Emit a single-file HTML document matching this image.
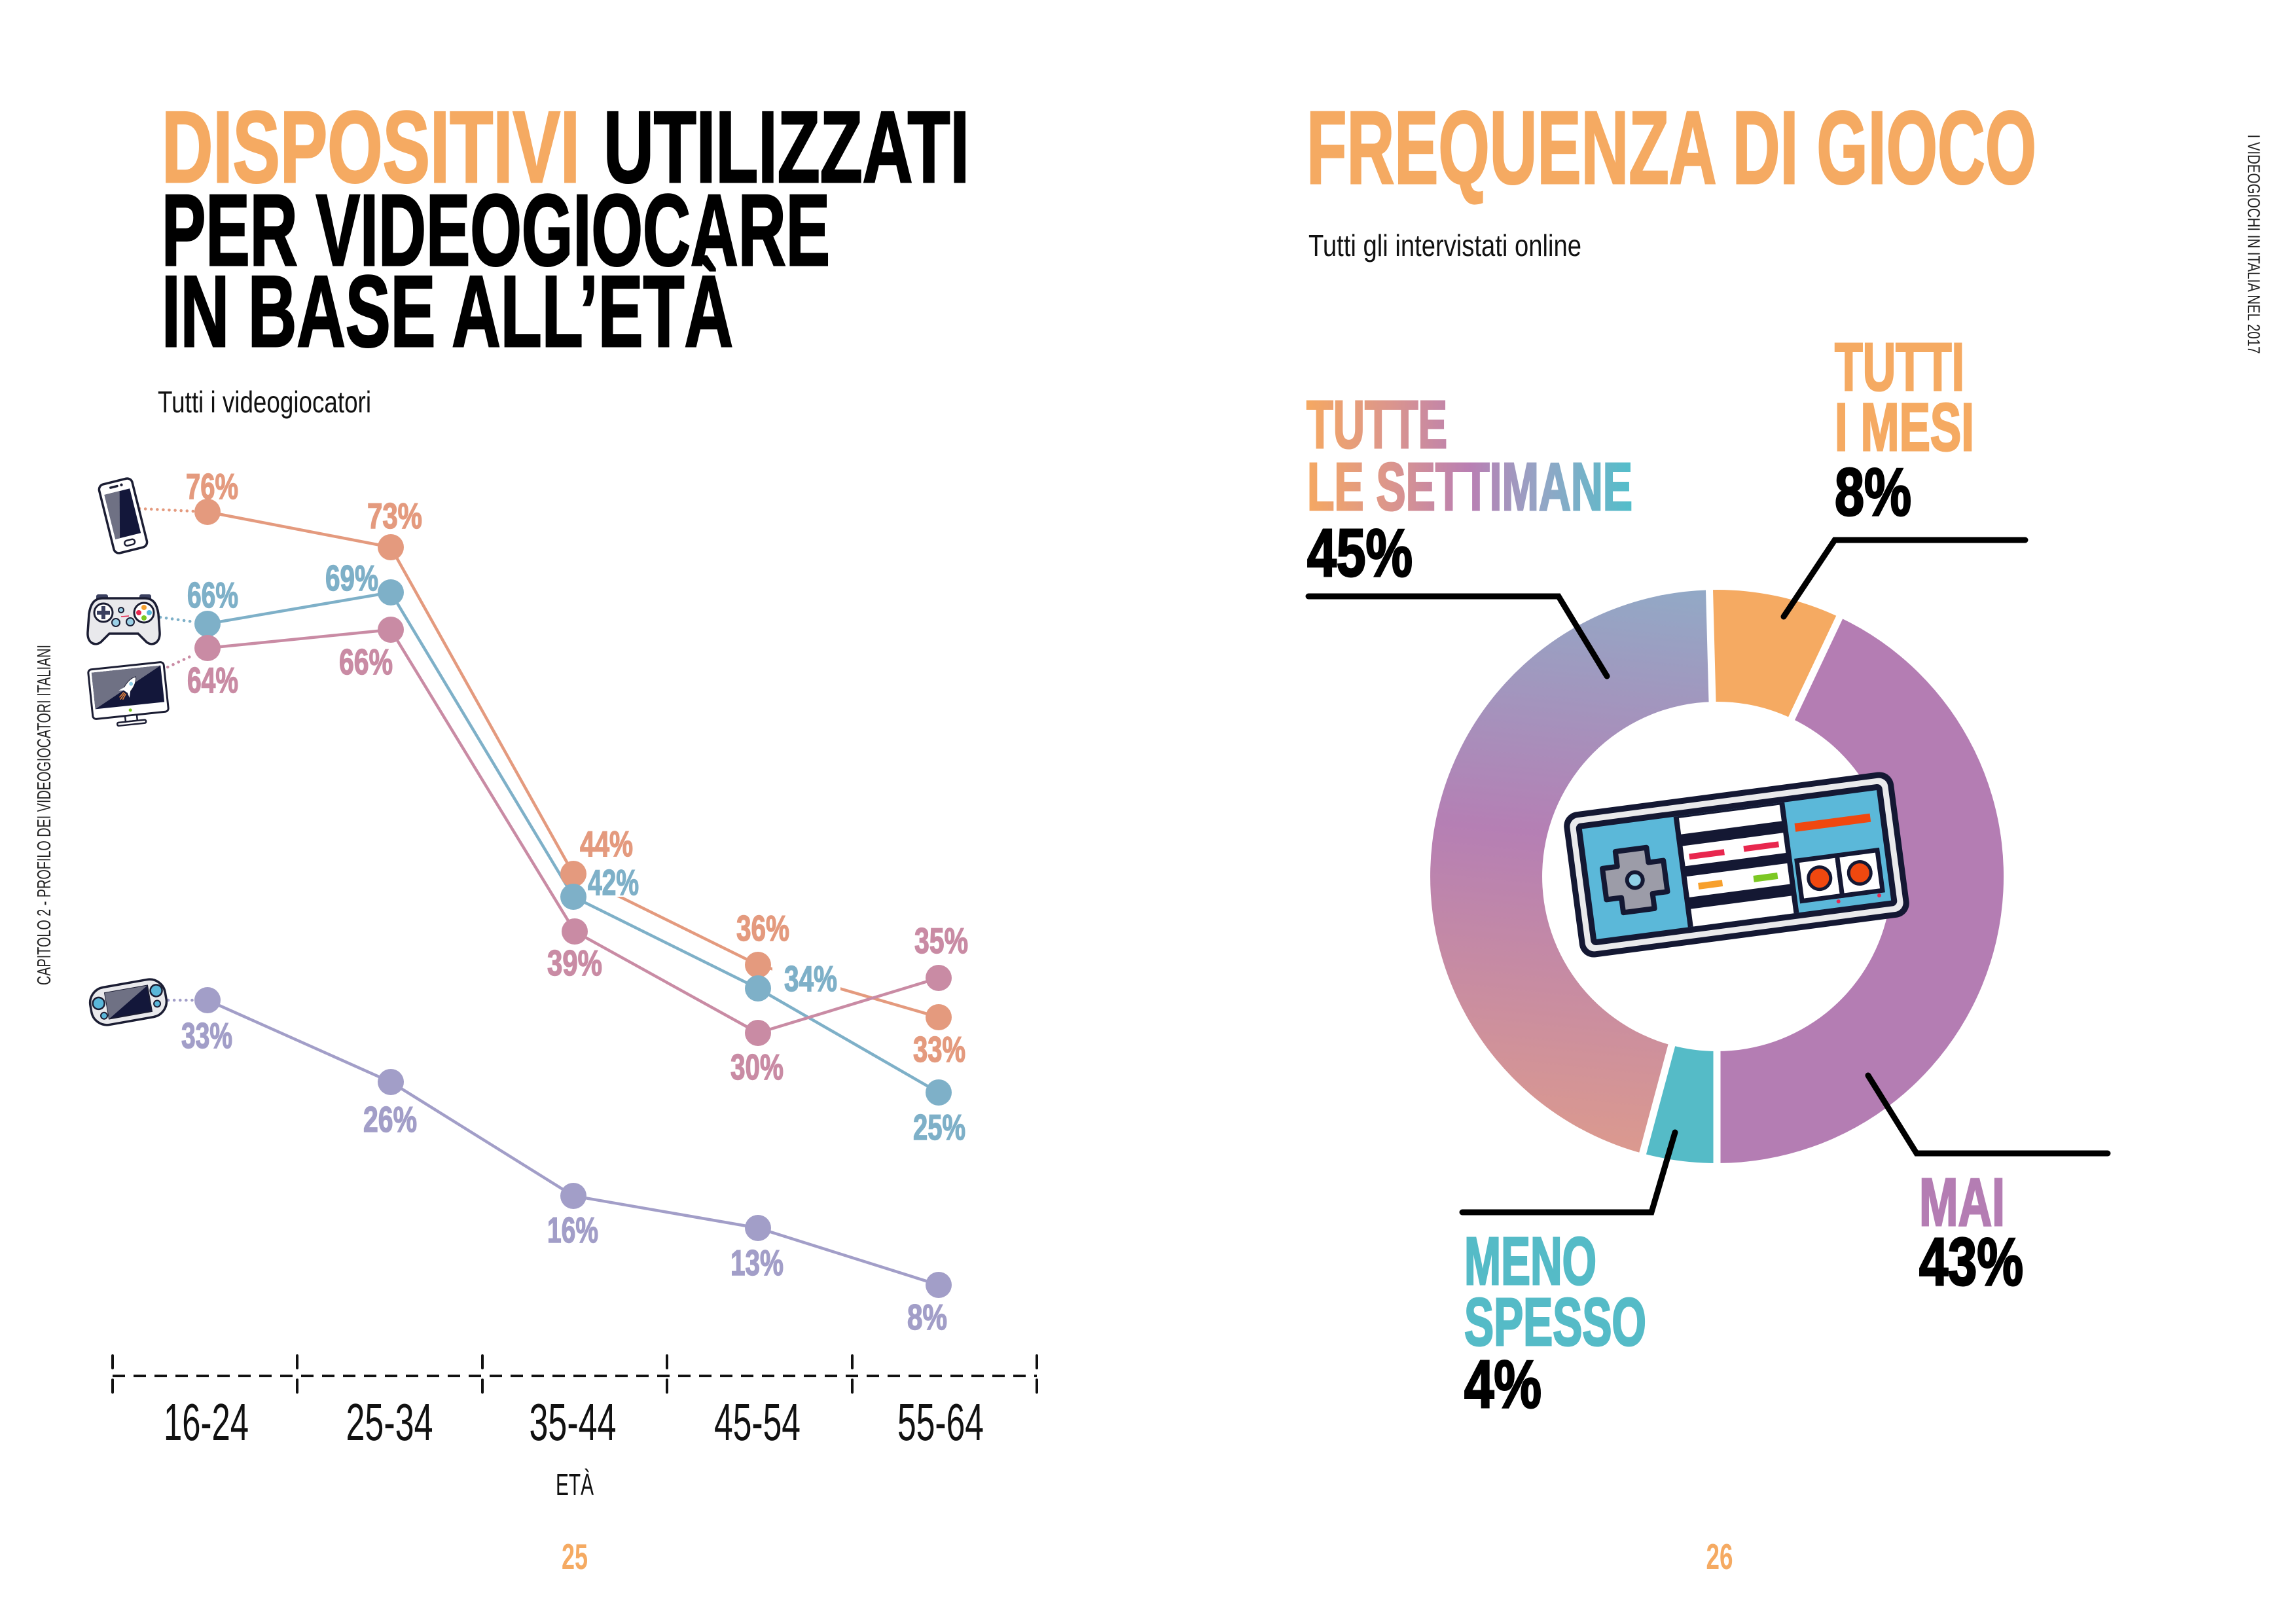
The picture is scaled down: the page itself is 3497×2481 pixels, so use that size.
<!DOCTYPE html>
<html>
<head>
<meta charset="utf-8">
<style>
html,body{margin:0;padding:0;background:#fff;}
svg{display:block;}
text{font-family:"Liberation Sans",Arial,sans-serif;}
</style>
</head>
<body>
<svg width="3497" height="2481" viewBox="0 0 3497 2481" xmlns="http://www.w3.org/2000/svg">
<defs>
  <linearGradient id="tg" gradientUnits="userSpaceOnUse" x1="1997" y1="0" x2="2494" y2="0">
    <stop offset="0" stop-color="#F5A862"/>
    <stop offset="0.25" stop-color="#DC968C"/>
    <stop offset="0.5" stop-color="#B97FB3"/>
    <stop offset="0.72" stop-color="#93A6C6"/>
    <stop offset="1" stop-color="#52BECA"/>
  </linearGradient>
  <linearGradient id="dg" gradientUnits="userSpaceOnUse" x1="2490" y1="1770" x2="2580" y2="900">
    <stop offset="0" stop-color="#DC9A8E"/>
    <stop offset="0.55" stop-color="#B57FB4"/>
    <stop offset="1" stop-color="#92A9C6"/>
  </linearGradient>
</defs>
<rect width="3497" height="2481" fill="#fff"/>

<!-- ================= LEFT PAGE ================= -->
<g font-weight="bold" font-size="155">
  <text x="247" y="278" textLength="639" lengthAdjust="spacingAndGlyphs" fill="#F5AA62" stroke="#F5AA62" stroke-width="3">DISPOSITIVI</text>
  <text x="922" y="278" textLength="559" lengthAdjust="spacingAndGlyphs" fill="#000" stroke="#000" stroke-width="3">UTILIZZATI</text>
  <text x="247" y="405" textLength="1021" lengthAdjust="spacingAndGlyphs" fill="#000" stroke="#000" stroke-width="3">PER VIDEOGIOCARE</text>
  <text x="247" y="529" textLength="873" lengthAdjust="spacingAndGlyphs" fill="#000" stroke="#000" stroke-width="3">IN BASE ALL’ETÀ</text>
</g>
<text x="241" y="630" font-size="46" textLength="326" lengthAdjust="spacingAndGlyphs" fill="#111">Tutti i videogiocatori</text>

<!-- vertical left text -->
<text transform="translate(77,1245) rotate(-90)" text-anchor="middle" font-size="29" textLength="520" lengthAdjust="spacingAndGlyphs" fill="#222">CAPITOLO 2 - PROFILO DEI VIDEOGIOCATORI ITALIANI</text>

<!-- dotted connectors -->
<g fill="none" stroke-width="4.5" stroke-linecap="round" stroke-dasharray="0.1 9">
  <path d="M213,777 L296,781" stroke="#E49A7E"/>
  <path d="M245,943 L296,950" stroke="#7EB0C8"/>
  <path d="M248,1023 L297,1000" stroke="#C98BA4"/>
  <path d="M257,1528 L296,1528" stroke="#A29EC8"/>
</g>

<!-- series lines -->
<g fill="none" stroke-width="4.5" stroke-linejoin="round">
  <polyline points="317,782 597,836 876,1335 1158,1474 1434,1554" stroke="#E49A7E"/>
  <polyline points="317,953 597,905 876,1370 1158,1510 1434,1669" stroke="#7EB0C8"/>
  <polyline points="317,990 597,962 878,1423 1158,1578 1434,1494" stroke="#C98BA4"/>
  <polyline points="317,1528 597,1653 876,1827 1158,1876 1434,1963" stroke="#A29EC8"/>
</g>

<!-- white label backgrounds -->
<rect x="893" y="1322" width="88" height="48" fill="#fff"/>
<rect x="1180" y="1468" width="104" height="49" fill="#fff"/>

<!-- circles -->
<g fill="#E49A7E">
  <circle cx="317" cy="782" r="20"/><circle cx="597" cy="836" r="20"/><circle cx="876" cy="1335" r="20"/><circle cx="1158" cy="1474" r="20"/><circle cx="1434" cy="1554" r="20"/>
</g>
<g fill="#7EB0C8">
  <circle cx="317" cy="953" r="20"/><circle cx="597" cy="905" r="20"/><circle cx="876" cy="1370" r="20"/><circle cx="1158" cy="1510" r="20"/><circle cx="1434" cy="1669" r="20"/>
</g>
<g fill="#C98BA4">
  <circle cx="317" cy="990" r="20"/><circle cx="597" cy="962" r="20"/><circle cx="878" cy="1423" r="20"/><circle cx="1158" cy="1578" r="20"/><circle cx="1434" cy="1494" r="20"/>
</g>
<g fill="#A29EC8">
  <circle cx="317" cy="1528" r="20"/><circle cx="597" cy="1653" r="20"/><circle cx="876" cy="1827" r="20"/><circle cx="1158" cy="1876" r="20"/><circle cx="1434" cy="1963" r="20"/>
</g>

<!-- percentage labels -->
<g font-weight="bold" font-size="55" stroke-width="1.5">
  <g fill="#E49A7E" stroke="#E49A7E">
    <text x="284" y="762" textLength="80" lengthAdjust="spacingAndGlyphs">76%</text>
    <text x="561" y="807" textLength="84" lengthAdjust="spacingAndGlyphs">73%</text>
    <text x="886" y="1308" textLength="81" lengthAdjust="spacingAndGlyphs">44%</text>
    <text x="1125" y="1437" textLength="81" lengthAdjust="spacingAndGlyphs">36%</text>
    <text x="1395" y="1622" textLength="80" lengthAdjust="spacingAndGlyphs">33%</text>
  </g>
  <g fill="#7EB0C8" stroke="#7EB0C8">
    <text x="286" y="928" textLength="78" lengthAdjust="spacingAndGlyphs">66%</text>
    <text x="497" y="902" textLength="81" lengthAdjust="spacingAndGlyphs">69%</text>
    <text x="898" y="1367" textLength="78" lengthAdjust="spacingAndGlyphs">42%</text>
    <text x="1198" y="1514" textLength="81" lengthAdjust="spacingAndGlyphs">34%</text>
    <text x="1395" y="1741" textLength="80" lengthAdjust="spacingAndGlyphs">25%</text>
  </g>
  <g fill="#C98BA4" stroke="#C98BA4">
    <text x="286" y="1058" textLength="78" lengthAdjust="spacingAndGlyphs">64%</text>
    <text x="518" y="1030" textLength="82" lengthAdjust="spacingAndGlyphs">66%</text>
    <text x="836" y="1490" textLength="84" lengthAdjust="spacingAndGlyphs">39%</text>
    <text x="1116" y="1649" textLength="81" lengthAdjust="spacingAndGlyphs">30%</text>
    <text x="1397" y="1456" textLength="82" lengthAdjust="spacingAndGlyphs">35%</text>
  </g>
  <g fill="#A29EC8" stroke="#A29EC8">
    <text x="277" y="1601" textLength="78" lengthAdjust="spacingAndGlyphs">33%</text>
    <text x="555" y="1729" textLength="82" lengthAdjust="spacingAndGlyphs">26%</text>
    <text x="836" y="1898" textLength="78" lengthAdjust="spacingAndGlyphs">16%</text>
    <text x="1116" y="1948" textLength="81" lengthAdjust="spacingAndGlyphs">13%</text>
    <text x="1386" y="2031" textLength="61" lengthAdjust="spacingAndGlyphs">8%</text>
  </g>
</g>

<!-- icons -->
<!-- phone -->
<g transform="translate(188,788) rotate(-14)">
  <rect x="-26" y="-54" width="52" height="108" rx="8" fill="#fff" stroke="#1B1D33" stroke-width="3.5"/>
  <rect x="-20" y="-38" width="40" height="70" fill="#13173A"/>
  <polygon points="-20,-38 4,-38 -13,32 -20,32" fill="#6F7184"/>
  <rect x="-10" y="-48" width="14" height="3.5" rx="1.7" fill="#1B1D33"/>
  <circle cx="9" cy="-46.5" r="2.2" fill="#1B1D33"/>
  <rect x="-8" y="38" width="16" height="8" rx="4" fill="#fff" stroke="#1B1D33" stroke-width="2.5"/>
</g>
<!-- gamepad -->
<g transform="translate(189,948)">
  <rect x="-42" y="-40" width="18" height="9" rx="3" fill="#3B4060"/>
  <rect x="24" y="-40" width="18" height="9" rx="3" fill="#3B4060"/>
  <path d="M-32,-34 L32,-34 C46,-34 51,-24 53,-10 L55,18 C56,34 44,40 35,33 L22,20 L-22,20 L-35,33 C-44,40 -56,34 -55,18 L-53,-10 C-51,-24 -46,-34 -32,-34 Z" fill="#E9E9EC" stroke="#1B1D33" stroke-width="3.5"/>
  <circle cx="-31" cy="-12" r="14" fill="#fff" stroke="#1B1D33" stroke-width="3"/>
  <path d="M-34,-22 h6 v7 h7 v6 h-7 v7 h-6 v-7 h-7 v-6 h7 z" fill="#3B4060"/>
  <circle cx="31" cy="-12" r="15" fill="#fff" stroke="#1B1D33" stroke-width="3"/>
  <circle cx="31" cy="-20" r="4" fill="#F5A030"/>
  <circle cx="23" cy="-12" r="4" fill="#E8264F"/>
  <circle cx="39" cy="-12" r="4" fill="#5AB7D9"/>
  <circle cx="31" cy="-4" r="4" fill="#7AC820"/>
  <circle cx="-4" cy="-16" r="4" fill="#9BD0E6" stroke="#1B1D33" stroke-width="2"/>
  <circle cx="-12" cy="3" r="6" fill="#9BD0E6" stroke="#1B1D33" stroke-width="2"/>
  <circle cx="10" cy="2" r="6" fill="#9BD0E6" stroke="#1B1D33" stroke-width="2"/>
  <path d="M-4,-6 L8,-7" stroke="#E8264F" stroke-width="1.5"/>
</g>
<!-- monitor -->
<g transform="translate(196,1055) rotate(-6)">
  <rect x="-58" y="-38" width="116" height="76" rx="5" fill="#fff" stroke="#1B1D33" stroke-width="3"/>
  <rect x="-53" y="-33" width="106" height="56" fill="#13173A"/>
  <polygon points="-53,-33 53,-33 -53,23" fill="#6F7184"/>
  <g transform="translate(2,-6) rotate(40)">
    <path d="M-2,12 L-3,22 M2,12 L3,22 M0,12 L0,24" stroke="#E8843A" stroke-width="1.5"/>
    <path d="M0,-18 C6,-12 7,0 5,10 L-5,10 C-7,0 -6,-12 0,-18 Z" fill="#fff" stroke="#1B1D33" stroke-width="1"/>
    <circle cx="0" cy="-5" r="3" fill="#8FD0E8"/>
    <path d="M-5,4 L-10,14 L-4,10 Z M5,4 L10,14 L4,10 Z" fill="#fff"/>
  </g>
  <circle cx="0" cy="30" r="2.5" fill="#7AC820"/>
  <rect x="-9" y="38" width="18" height="9" fill="#fff" stroke="#1B1D33" stroke-width="2.5"/>
  <rect x="-22" y="47" width="44" height="5" rx="2" fill="#fff" stroke="#1B1D33" stroke-width="2.5"/>
</g>
<!-- handheld -->
<g transform="translate(196,1531) rotate(-10)">
  <rect x="-58" y="-29" width="116" height="58" rx="24" fill="#E9E9EC" stroke="#1B1D33" stroke-width="3.5"/>
  <rect x="-33" y="-20" width="66" height="40" fill="#13173A" stroke="#1B1D33" stroke-width="2"/>
  <polygon points="-33,-20 33,-20 -33,20" fill="#6F7184"/>
  <circle cx="-45" cy="-6" r="9" fill="#5AB7D9" stroke="#1B1D33" stroke-width="2.5"/>
  <circle cx="-40" cy="14" r="5" fill="#5AB7D9" stroke="#1B1D33" stroke-width="2"/>
  <circle cx="45" cy="-10" r="9" fill="#5AB7D9" stroke="#1B1D33" stroke-width="2.5"/>
  <circle cx="43" cy="10" r="5" fill="#5AB7D9" stroke="#1B1D33" stroke-width="2"/>
</g>

<!-- axis -->
<line x1="172" y1="2102" x2="1584" y2="2102" stroke="#111" stroke-width="4" stroke-dasharray="19 13"/>
<g stroke="#111" stroke-width="4" stroke-linecap="round">
  <path d="M172,2071 V2090 M172,2108 V2127"/>
  <path d="M454,2071 V2090 M454,2108 V2127"/>
  <path d="M737,2071 V2090 M737,2108 V2127"/>
  <path d="M1019,2071 V2090 M1019,2108 V2127"/>
  <path d="M1302,2071 V2090 M1302,2108 V2127"/>
  <path d="M1584,2071 V2090 M1584,2108 V2127"/>
</g>
<g font-size="80" fill="#111" text-anchor="middle">
  <text x="315" y="2200" textLength="130" lengthAdjust="spacingAndGlyphs">16-24</text>
  <text x="595" y="2200" textLength="133" lengthAdjust="spacingAndGlyphs">25-34</text>
  <text x="875" y="2200" textLength="133" lengthAdjust="spacingAndGlyphs">35-44</text>
  <text x="1157" y="2200" textLength="132" lengthAdjust="spacingAndGlyphs">45-54</text>
  <text x="1437" y="2200" textLength="132" lengthAdjust="spacingAndGlyphs">55-64</text>
</g>
<text x="878" y="2284" font-size="46" text-anchor="middle" textLength="58" lengthAdjust="spacingAndGlyphs" fill="#111">ETÀ</text>
<text x="878" y="2397" font-size="55" font-weight="bold" text-anchor="middle" textLength="40" lengthAdjust="spacingAndGlyphs" fill="#F5AA62">25</text>

<!-- ================= RIGHT PAGE ================= -->
<text x="1996" y="280" font-size="158" font-weight="bold" textLength="1115" lengthAdjust="spacingAndGlyphs" fill="#F5AA62" stroke="#F5AA62" stroke-width="3">FREQUENZA DI GIOCO</text>
<text x="1999" y="391" font-size="46" textLength="417" lengthAdjust="spacingAndGlyphs" fill="#111">Tutti gli intervistati online</text>

<text transform="translate(3434,373) rotate(90)" text-anchor="middle" font-size="27" textLength="335" lengthAdjust="spacingAndGlyphs" fill="#222">I VIDEOGIOCHI IN ITALIA NEL 2017</text>

<!-- donut -->
<path d="M2611.5,901.2 A438,438 0 0 1 2810.2,943.0 L2737.1,1097.6 A267,267 0 0 0 2616.0,1072.1 Z" fill="#F5AA62"/>
<path d="M2810.2,943.0 A438,438 0 0 1 2623,1777 L2623,1606 A267,267 0 0 0 2737.1,1097.6 Z" fill="#B47DB3"/>
<path d="M2623,1777 A438,438 0 0 1 2509.6,1762.1 L2553.9,1596.9 A267,267 0 0 0 2623,1606 Z" fill="#55BBC7"/>
<path d="M2509.6,1762.1 A438,438 0 0 1 2611.5,901.2 L2616.0,1072.1 A267,267 0 0 0 2553.9,1596.9 Z" fill="url(#dg)"/>
<g stroke="#fff" stroke-width="11">
  <line x1="2616.2" y1="1079" x2="2611.3" y2="894"/>
  <line x1="2734.1" y1="1103.9" x2="2813.2" y2="936.7"/>
  <line x1="2623" y1="1599" x2="2623" y2="1784"/>
  <line x1="2555.7" y1="1590.1" x2="2507.8" y2="1768.8"/>
</g>

<!-- NES controller -->
<g transform="translate(2653,1321) rotate(-7.5)">
  <rect x="-254" y="-112" width="508" height="224" rx="22" fill="#141833"/>
  <rect x="-245" y="-103" width="490" height="206" rx="14" fill="#EAEAEC"/>
  <rect x="-236" y="-94" width="472" height="188" rx="8" fill="#141833"/>
  <rect x="-227" y="-85" width="454" height="170" fill="#5BB8D9"/>
  <rect x="-86" y="-85" width="171" height="170" fill="#141833"/>
  <rect x="-78" y="-82" width="155" height="25" fill="#fff"/>
  <rect x="-78" y="-39" width="155" height="31" fill="#fff"/>
  <rect x="-78" y="8" width="155" height="32" fill="#fff"/>
  <rect x="-78" y="58" width="155" height="27" fill="#fff"/>
  <rect x="-70" y="-26" width="54" height="9" fill="#E8274E"/>
  <rect x="14" y="-27" width="54" height="9" fill="#E8274E"/>
  <rect x="-62" y="20" width="37" height="10" fill="#F7A02C"/>
  <rect x="23" y="20" width="37" height="10" fill="#7CC823"/>
  <path d="M-181,-44 H-133 V-21 H-110 V27 H-133 V50 H-181 V27 H-204 V-21 H-181 Z" fill="#9C9CA8" stroke="#141833" stroke-width="8" stroke-linejoin="round"/>
  <circle cx="-157" cy="3" r="15" fill="#141833"/>
  <circle cx="-157" cy="3" r="9" fill="#8FCFE6"/>
  <rect x="96" y="-51" width="116" height="13" fill="#F0480F"/>
  <rect x="92" y="6" width="62" height="62" fill="#fff" stroke="#141833" stroke-width="7"/>
  <rect x="154" y="6" width="62" height="62" fill="#fff" stroke="#141833" stroke-width="7"/>
  <circle cx="123" cy="37" r="17" fill="#F0480F" stroke="#141833" stroke-width="5"/>
  <circle cx="185" cy="37" r="17" fill="#F0480F" stroke="#141833" stroke-width="5"/>
  <circle cx="147" cy="76" r="3" fill="#E8274E"/>
  <circle cx="210" cy="75" r="3" fill="#E8274E"/>
</g>

<!-- leader lines -->
<g fill="none" stroke="#000" stroke-width="9" stroke-linecap="round" stroke-linejoin="miter">
  <polyline points="1999,911 2381,911 2455,1033"/>
  <polyline points="3094,825 2803,825 2725,942"/>
  <polyline points="2854,1643 2928,1762 3220,1762"/>
  <polyline points="2234,1852 2523,1852 2559,1730"/>
</g>

<!-- right labels -->
<g font-weight="bold" font-size="103">
  <text x="1996" y="684" textLength="215" lengthAdjust="spacingAndGlyphs" fill="url(#tg)" stroke="url(#tg)" stroke-width="3">TUTTE</text>
  <text x="1997" y="779" textLength="497" lengthAdjust="spacingAndGlyphs" fill="url(#tg)" stroke="url(#tg)" stroke-width="3">LE SETTIMANE</text>
  <text x="1997" y="880" textLength="161" lengthAdjust="spacingAndGlyphs" fill="#000" stroke="#000" stroke-width="3">45%</text>

  <text x="2803" y="596" textLength="198" lengthAdjust="spacingAndGlyphs" fill="#F5AA62" stroke="#F5AA62" stroke-width="3">TUTTI</text>
  <text x="2803" y="688" textLength="213" lengthAdjust="spacingAndGlyphs" fill="#F5AA62" stroke="#F5AA62" stroke-width="3">I MESI</text>
  <text x="2803" y="787" textLength="117" lengthAdjust="spacingAndGlyphs" fill="#000" stroke="#000" stroke-width="3">8%</text>

  <text x="2932" y="1872" textLength="131" lengthAdjust="spacingAndGlyphs" fill="#B47DB3" stroke="#B47DB3" stroke-width="3">MAI</text>
  <text x="2932" y="1963" textLength="159" lengthAdjust="spacingAndGlyphs" fill="#000" stroke="#000" stroke-width="3">43%</text>

  <text x="2237" y="1962" textLength="202" lengthAdjust="spacingAndGlyphs" fill="#55BBC7" stroke="#55BBC7" stroke-width="3">MENO</text>
  <text x="2237" y="2055" textLength="278" lengthAdjust="spacingAndGlyphs" fill="#55BBC7" stroke="#55BBC7" stroke-width="3">SPESSO</text>
  <text x="2237" y="2150" textLength="118" lengthAdjust="spacingAndGlyphs" fill="#000" stroke="#000" stroke-width="3">4%</text>
</g>

<text x="2627" y="2397" font-size="55" font-weight="bold" text-anchor="middle" textLength="41" lengthAdjust="spacingAndGlyphs" fill="#F5AA62">26</text>
</svg>
</body>
</html>
